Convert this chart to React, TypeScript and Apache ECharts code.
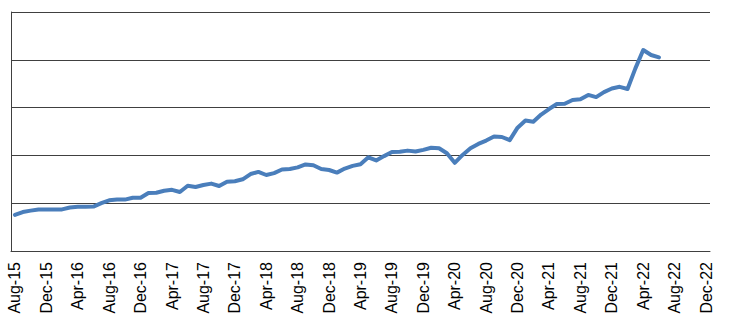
import React, { useEffect, useRef } from "react";
import * as echarts from "echarts";

const months: string[] = [
  "Aug-15", "Sep-15", "Oct-15", "Nov-15", "Dec-15",
  "Jan-16", "Feb-16", "Mar-16", "Apr-16", "May-16", "Jun-16", "Jul-16", "Aug-16", "Sep-16", "Oct-16", "Nov-16", "Dec-16",
  "Jan-17", "Feb-17", "Mar-17", "Apr-17", "May-17", "Jun-17", "Jul-17", "Aug-17", "Sep-17", "Oct-17", "Nov-17", "Dec-17",
  "Jan-18", "Feb-18", "Mar-18", "Apr-18", "May-18", "Jun-18", "Jul-18", "Aug-18", "Sep-18", "Oct-18", "Nov-18", "Dec-18",
  "Jan-19", "Feb-19", "Mar-19", "Apr-19", "May-19", "Jun-19", "Jul-19", "Aug-19", "Sep-19", "Oct-19", "Nov-19", "Dec-19",
  "Jan-20", "Feb-20", "Mar-20", "Apr-20", "May-20", "Jun-20", "Jul-20", "Aug-20", "Sep-20", "Oct-20", "Nov-20", "Dec-20",
  "Jan-21", "Feb-21", "Mar-21", "Apr-21", "May-21", "Jun-21", "Jul-21", "Aug-21", "Sep-21", "Oct-21", "Nov-21", "Dec-21",
  "Jan-22", "Feb-22", "Mar-22", "Apr-22", "May-22", "Jun-22", "Jul-22", "Aug-22", "Sep-22", "Oct-22", "Nov-22", "Dec-22",
];

const values: number[] = [
  15.1, 16.3, 16.9, 17.4, 17.4, 17.4, 17.4, 18.2, 18.5, 18.5,
  18.6, 20.0, 21.2, 21.5, 21.5, 22.3, 22.3, 24.3, 24.4, 25.2,
  25.6, 24.7, 27.3, 26.8, 27.6, 28.2, 27.2, 29.0, 29.2, 30.0,
  32.2, 33.1, 31.8, 32.6, 34.1, 34.3, 35.0, 36.2, 35.9, 34.3,
  33.9, 32.8, 34.5, 35.6, 36.3, 39.2, 37.9, 39.7, 41.4, 41.5,
  42.0, 41.6, 42.3, 43.2, 43.0, 40.9, 36.9, 40.2, 43.0, 44.8,
  46.2, 47.9, 47.7, 46.4, 51.6, 54.6, 54.1, 57.1, 59.4, 61.5,
  61.6, 63.2, 63.5, 65.3, 64.4, 66.5, 68.0, 68.7, 67.8, 76.4,
  84.1, 82.0, 81.0,
];

export default function App() {
  const ref = useRef<HTMLDivElement>(null);
  useEffect(() => {
    document.body.style.margin = "0";
    const chart = echarts.init(ref.current!, null, { renderer: "svg" });
    chart.setOption({
      animation: false,
      backgroundColor: "#ffffff",
      grid: { left: 11, right: 23, top: 12, bottom: 78, containLabel: false },
      xAxis: {
        type: "category",
        data: months,
        boundaryGap: true,
        axisLine: { show: true, lineStyle: { color: "#404040", width: 1 } },
        axisTick: { show: false },
        axisLabel: {
          interval: 3,
          rotate: 90,
          margin: 11,
          fontFamily: "Liberation Sans",
          fontSize: 16,
          color: "#000000",
        },
        splitLine: { show: false },
      },
      yAxis: {
        type: "value",
        min: 0,
        max: 100,
        interval: 20,
        axisLine: { show: true, lineStyle: { color: "#404040", width: 1 } },
        axisTick: { show: false },
        axisLabel: { show: false },
        splitLine: { show: true, lineStyle: { color: "#404040", width: 1 } },
      },
      series: [
        {
          type: "line",
          data: values,
          showSymbol: false,
          symbol: "none",
          lineStyle: { color: "#4a7ebb", width: 4, join: "round", cap: "round" },
          itemStyle: { color: "#4a7ebb" },
        },
      ],
    });
    return () => chart.dispose();
  }, []);
  return <div ref={ref} style={{ width: 733, height: 329 }} />;
}
